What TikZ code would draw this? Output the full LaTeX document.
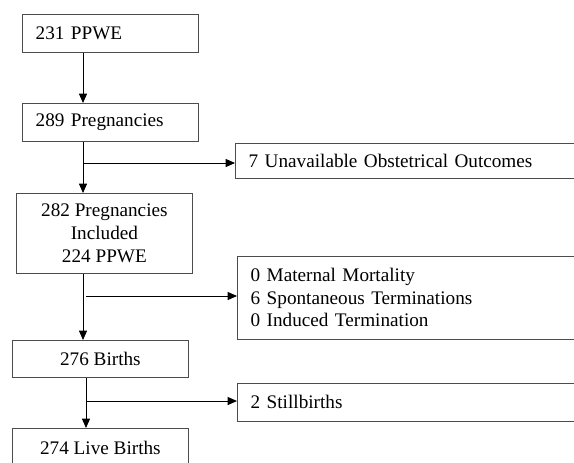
\documentclass[tikz,border=0pt]{standalone}
\usepackage{fontspec}
\setmainfont{Liberation Serif}
\usetikzlibrary{arrows.meta}
\begin{document}
\begin{tikzpicture}[x=0.75pt, y=-0.75pt, font=\fontsize{14.4}{17}\selectfont,
  every node/.style = {shape=rectangle, draw=black!70, line width=0.6pt, anchor=north west},
  leftbox/.style = {align=left, text width=#1, inner xsep=10pt},
  midbox/.style = {align=center, minimum width=132pt},
  arr/.style = {-{Triangle[length=7pt,width=6pt]}, line width=0.7pt}]
  \path[use as bounding box, clip] (0,0) rectangle (574,462);
  % main column
  \node[leftbox=112pt, minimum height=28.5pt] (ppwe) at (22,14) {231 PPWE};
  \node[leftbox=112pt, minimum height=28.5pt] (preg) at (22,103) {289 Pregnancies};
  \node[midbox, minimum height=60pt] (incl) at (16,193) {282 Pregnancies\\Included\\224 PPWE};
  \node[midbox, minimum height=28pt] (births) at (12,340) {276 Births};
  \node[midbox, minimum height=30pt] (live) at (12,428) {274 Live Births};
  % exclusions
  \node[leftbox=253pt, minimum height=26pt] (unavail) at (235,143) {7 Unavailable Obstetrical Outcomes};
  \node[leftbox=253pt, minimum height=62pt] (term) at (237,256)
    {0 Maternal Mortality\\6 Spontaneous Terminations\\0 Induced Termination};
  \node[leftbox=253pt, minimum height=28.5pt] (still) at (237,383) {2 Stillbirths};
  % connectors
  \coordinate (t1) at (83,0);
  \coordinate (t2) at (86,0);
  \coordinate (j1) at (83,163);
  \coordinate (j2) at (86,296);
  \coordinate (j3) at (86,401);
  \draw[arr] (ppwe.south -| t1) -- (preg.north -| t1);
  \draw[arr] (preg.south -| t1) -- (incl.north -| t1);
  \draw[arr] (incl.south -| t1) -- (births.north -| t1);
  \draw[arr] (births.south -| t2) -- (live.north -| t2);
  \draw[arr] (j1) -- (unavail.west |- j1);
  \draw[arr] (j2) -- (term.west |- j2);
  \draw[arr] (j3) -- (still.west |- j3);
\end{tikzpicture}
\end{document}
